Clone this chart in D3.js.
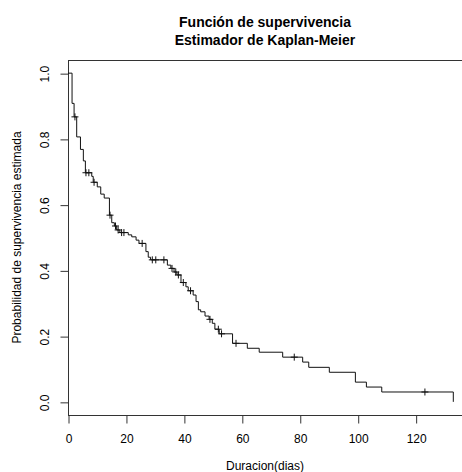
<!DOCTYPE html>
<html>
<head>
<meta charset="utf-8">
<script src="https://cdn.jsdelivr.net/npm/d3@7"></script>
<style>
  html, body { margin: 0; padding: 0; background: #fff; }
  svg { display: block; }
  text { font-family: "Liberation Sans", Arial, sans-serif; fill: #000; }
</style>
</head>
<body>
<div id="chart"></div>
<script>
// ---- data ----
const title1 = "Función de supervivencia";
const title2 = "Estimador de Kaplan-Meier";
const xLabel = "Duracion(dias)";
const yLabel = "Probabilidad de supervivencia estimada";

const eventTimes = [1.4, 2.1, 3.0, 4.3, 5.3, 6.0, 8.2, 8.7, 10.1, 11.3, 12.5, 14.3, 15.1, 16.0, 16.8, 17.9,
  20.8, 22.0, 23.5, 24.5, 26.9, 27.7, 28.5, 34.3, 35.5, 36.6, 37.6, 39.0, 40.7, 41.5, 43.2, 44.2, 45.0,
  45.8, 47.3, 48.7, 49.8, 50.7, 52.2, 56.8, 61.9, 66.0, 74.1, 81.0, 83.1, 90.2, 99.2, 103.0, 108.3, 133.0];
const survival = [0.908, 0.867, 0.806, 0.768, 0.733, 0.697, 0.686, 0.668, 0.654, 0.632, 0.620, 0.568, 0.545,
  0.535, 0.523, 0.515, 0.508, 0.502, 0.492, 0.482, 0.457, 0.440, 0.432, 0.416, 0.406, 0.395, 0.386, 0.363,
  0.350, 0.338, 0.325, 0.305, 0.280, 0.274, 0.261, 0.251, 0.239, 0.221, 0.207, 0.178, 0.163, 0.151, 0.136,
  0.121, 0.105, 0.090, 0.060, 0.045, 0.030, 0.0];
const censorTimes = [2.4, 6.2, 7.2, 9.0, 14.5, 16.4, 17.3, 18.5, 19.3, 25.6, 29.1, 30.3, 33.1, 35.9, 37.2,
  38.1, 39.8, 42.3, 49.0, 51.9, 53.0, 58.0, 78.1, 123.2];

const xTicks = [0, 20, 40, 60, 80, 100, 120];
const yTicks = [0.0, 0.2, 0.4, 0.6, 0.8, 1.0];

// ---- layout ----
const W = 462, H = 472;
const mLeft = 68, mRight = 462, mTop = 60, mBottom = 415;

const svg = d3.select("#chart").append("svg").attr("width", W).attr("height", H);

const x = d3.scaleLinear().domain([0, 136]).range([mLeft, mRight]);
const y = d3.scaleLinear().domain([-0.04, 1.04]).range([mBottom, mTop]);

// box (right edge lies just outside the picture)
svg.append("rect")
  .attr("x", mLeft + 0.5).attr("y", mTop + 0.5)
  .attr("width", mRight - mLeft + 5).attr("height", mBottom - mTop)
  .attr("fill", "none").attr("stroke", "#333").attr("stroke-width", 1);

// x axis
const gx = svg.append("g").attr("transform", `translate(0.5,${mBottom + 0.5})`)
  .call(d3.axisBottom(x).tickValues(xTicks).tickFormat(d3.format("d")).tickSize(8).tickPadding(11));
gx.select(".domain").remove();
gx.selectAll(".tick line").attr("stroke", "#333");
gx.selectAll(".tick text").attr("font-size", 12).attr("font-family", "Liberation Sans, Arial, sans-serif").attr("fill", "#000");

// y axis
const gy = svg.append("g").attr("transform", `translate(${mLeft + 0.5},0.5)`)
  .call(d3.axisLeft(y).tickValues(yTicks).tickFormat(d3.format(".1f")).tickSize(8));
gy.select(".domain").remove();
gy.selectAll(".tick line").attr("stroke", "#333");
gy.selectAll(".tick text").remove();
gy.selectAll(".tick").append("text")
  .attr("transform", "translate(-20,0) rotate(-90)")
  .attr("text-anchor", "middle")
  .attr("font-size", 12)
  .attr("fill", "#000")
  .text(d => d3.format(".1f")(d));

// step curve
const pts = [[0, 1]].concat(eventTimes.map((t, i) => [t, survival[i]]));
const line = d3.line().x(d => x(d[0])).y(d => y(d[1])).curve(d3.curveStepAfter);
svg.append("path").datum(pts)
  .attr("d", line)
  .attr("fill", "none").attr("stroke", "#111").attr("stroke-width", 1);

// censor marks
function survAt(t) {
  let s = 1;
  for (let i = 0; i < eventTimes.length; i++) if (eventTimes[i] <= t) s = survival[i];
  return s;
}
const marks = svg.append("g");
censorTimes.forEach(t => {
  const cx = x(t), cy = y(survAt(t));
  marks.append("line").attr("x1", cx - 3.5).attr("x2", cx + 3.5).attr("y1", cy).attr("y2", cy)
    .attr("stroke", "#111").attr("stroke-width", 1);
  marks.append("line").attr("x1", cx).attr("x2", cx).attr("y1", cy - 3.5).attr("y2", cy + 3.5)
    .attr("stroke", "#111").attr("stroke-width", 1);
});

// titles
svg.append("text").attr("x", (mLeft + mRight) / 2).attr("y", 27)
  .attr("text-anchor", "middle").attr("font-size", 14).attr("font-weight", "bold").text(title1);
svg.append("text").attr("x", (mLeft + mRight) / 2).attr("y", 45)
  .attr("text-anchor", "middle").attr("font-size", 14).attr("font-weight", "bold").text(title2);

svg.append("text").attr("x", (mLeft + mRight) / 2).attr("y", 469.5)
  .attr("text-anchor", "middle").attr("font-size", 12).text(xLabel);
svg.append("text")
  .attr("transform", `translate(21,${(mTop + mBottom) / 2}) rotate(-90)`)
  .attr("text-anchor", "middle").attr("font-size", 12).text(yLabel);
</script>
</body>
</html>
